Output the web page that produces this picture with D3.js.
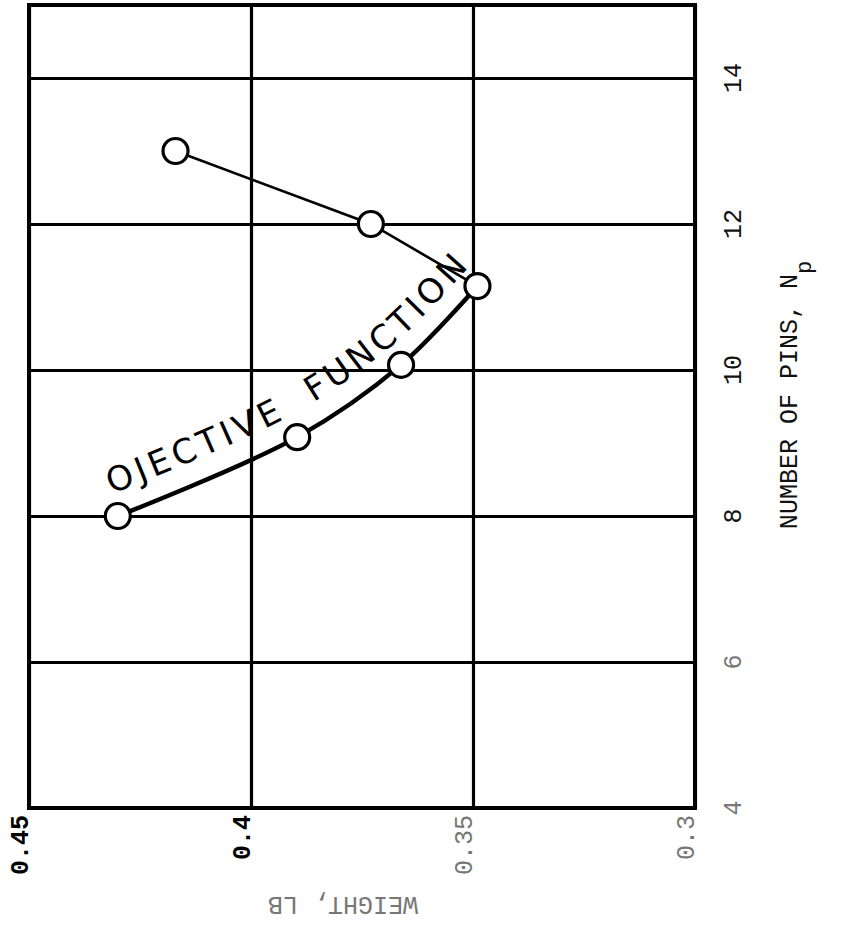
<!DOCTYPE html>
<meta charset="utf-8">
<style>

body {
  margin: 0;
  background: #fff;
}

text.tick {
  font-family: "Liberation Mono", "DejaVu Sans Mono", monospace;
  font-size: 25px;
}

</style>
<svg></svg>
<script src="https://cdn.jsdelivr.net/npm/d3@7"></script>
<script>

var width = 844,
    height = 946;

// weight (lb) vs number of pins
var weights = [0.430, 0.3896, 0.3662, 0.349, 0.373, 0.417];
var pins = [8.0, 9.08, 10.07, 11.15, 12.0, 13.0];

var weightTicks = [0.45, 0.4, 0.35, 0.3];
var weightLabels = ["0.45", "0.4", "0.35", "0.3"];
var pinTicks = [4, 6, 8, 10, 12, 14];
var pinLabels = ["4", "6", "8", "10", "12", "14"];

var svg = d3.select("svg")
    .attr("width", width)
    .attr("height", height);

var x = d3.scaleLinear()
    .domain([0.45, 0.3])
    .range([29, 695]);

var y = d3.scaleLinear()
    .domain([4, 15])
    .range([808, 5]);

var data = weights.map(function(w, i) { return {w: w, n: pins[i]}; });

// grid
svg.append("g")
    .attr("transform", "translate(0," + y(4) + ")")
    .call(d3.axisBottom(x).tickValues(weightTicks).tickSize(-(y(4) - y(15))).tickFormat(""))
    .call(function(g) {
      g.select(".domain").remove();
      g.selectAll("line").attr("stroke", "#000").attr("stroke-width", 3.2);
    });

svg.append("g")
    .attr("transform", "translate(" + x(0.45) + ",0)")
    .call(d3.axisLeft(y).tickValues(pinTicks).tickSize(-(x(0.3) - x(0.45))).tickFormat(""))
    .call(function(g) {
      g.select(".domain").remove();
      g.selectAll("line").attr("stroke", "#000").attr("stroke-width", 3.2);
    });

svg.append("rect")
    .attr("x", x(0.45))
    .attr("y", y(15))
    .attr("width", x(0.3) - x(0.45))
    .attr("height", y(4) - y(15))
    .attr("fill", "none")
    .attr("stroke", "#000")
    .attr("stroke-width", 4);

// tick labels
svg.selectAll("text.wlab")
    .data(weightTicks)
  .enter().append("text")
    .attr("class", "tick wlab")
    .attr("transform", function(d) { return "translate(" + (x(d) - 1) + "," + (y(4) + 7) + ") rotate(-90)"; })
    .attr("text-anchor", "end")
    .attr("font-weight", function(d, i) { return i < 2 ? "bold" : "normal"; })
    .attr("fill", function(d, i) { return i < 2 ? "#000" : "#777"; })
    .text(function(d, i) { return weightLabels[i]; });

svg.selectAll("text.plab")
    .data(pinTicks)
  .enter().append("text")
    .attr("class", "tick plab")
    .attr("transform", function(d) { return "translate(" + 741 + "," + y(d) + ") rotate(-90)"; })
    .attr("text-anchor", "middle")
    .attr("fill", function(d) { return d < 8 ? "#777" : "#111"; })
    .text(function(d, i) { return pinLabels[i]; });

// axis titles
var ttl = svg.append("text")
    .attr("class", "tick")
    .attr("transform", "translate(797,395) rotate(-90)")
    .attr("text-anchor", "middle")
    .attr("fill", "#111");
ttl.append("tspan").text("NUMBER OF PINS, N");
ttl.append("tspan").attr("dy", 14).attr("font-size", 22).text("p");

svg.append("text")
    .attr("class", "tick")
    .attr("transform", "translate(343,897) rotate(180)")
    .attr("text-anchor", "middle")
    .attr("fill", "#777")
    .text("WEIGHT, LB");

// curve
var split = 3;
var lower = data.slice(0, split + 1),
    upper = data.slice(split);

var line = d3.line()
    .x(function(d) { return x(d.w); })
    .y(function(d) { return y(d.n); });

svg.append("path")
    .datum(lower)
    .attr("d", line.curve(d3.curveCatmullRom))
    .attr("fill", "none")
    .attr("stroke", "#000")
    .attr("stroke-width", 4.5);

svg.append("path")
    .datum(upper)
    .attr("d", line.curve(d3.curveLinear))
    .attr("fill", "none")
    .attr("stroke", "#000")
    .attr("stroke-width", 2.6);

// label following the curve
var labelPath = svg.append("path")
    .datum(lower)
    .attr("id", "lblpath")
    .attr("transform", "translate(-3,-11)")
    .attr("d", line.curve(d3.curveCatmullRom))
    .attr("fill", "none");

var len = labelPath.node().getTotalLength();

svg.append("text")
    .attr("transform", "translate(-3,-11)")
    .attr("font-family", "DejaVu Sans, sans-serif")
    .attr("font-size", 34)
    .attr("fill", "#000")
  .append("textPath")
    .attr("href", "#lblpath")
    .attr("startOffset", 0)
    .attr("textLength", len * 0.99)
    .attr("lengthAdjust", "spacing")
    .text("OJECTIVE\u00a0\u00a0FUNCTION");

// markers
svg.selectAll("circle.pt")
    .data(data)
  .enter().append("circle")
    .attr("class", "pt")
    .attr("cx", function(d) { return x(d.w); })
    .attr("cy", function(d) { return y(d.n); })
    .attr("r", 12.5)
    .attr("fill", "#fff")
    .attr("stroke", "#000")
    .attr("stroke-width", 3.2);

</script>
